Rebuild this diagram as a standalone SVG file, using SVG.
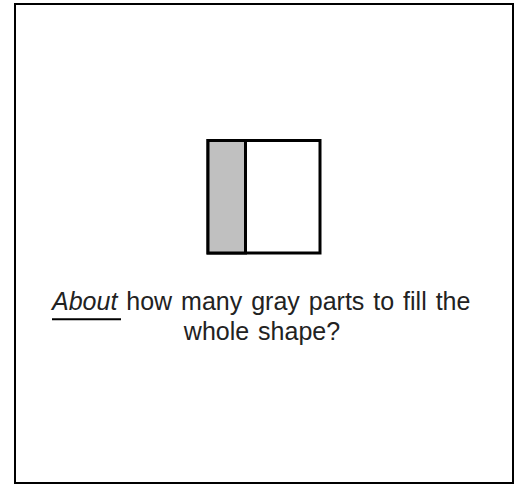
<svg xmlns="http://www.w3.org/2000/svg" width="519" height="485" viewBox="0 0 519 485">
<style>
.frame{fill:#ffffff;stroke:#000000;stroke-width:2}
.shape{stroke:#000000;stroke-width:3}
.q{font-family:"Liberation Sans",Arial,sans-serif;font-size:25px;fill:#222222;word-spacing:2px}
</style>
<rect width="519" height="485" fill="#ffffff"/>
<rect class="frame" x="15" y="4" width="498" height="479"/>
<g id="shape">
<rect class="shape" x="208" y="140.5" width="112" height="112.5" fill="#ffffff"/>
<rect class="shape" x="208" y="140.5" width="37.5" height="112.5" fill="#c0c0c0"/>
</g>
<g id="question">
<text class="q" x="52" y="309.5"><tspan font-style="italic">About</tspan> how many gray parts to fill the</text>
<line x1="52" y1="319.3" x2="121" y2="319.3" stroke="#000000" stroke-width="2"/>
<text class="q" x="262" y="339.5" text-anchor="middle">whole shape?</text>
</g>
</svg>
